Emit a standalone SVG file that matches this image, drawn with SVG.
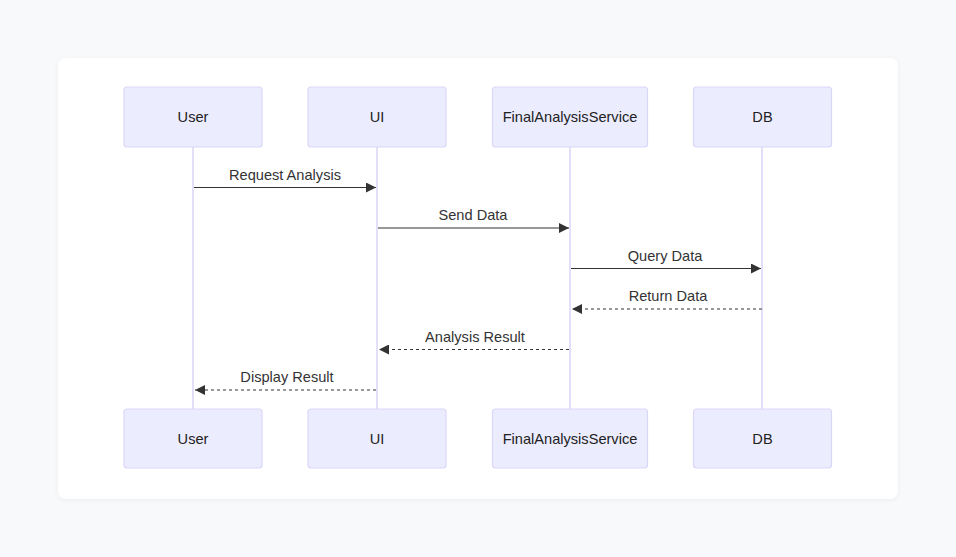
<svg xmlns="http://www.w3.org/2000/svg" width="956" height="557" viewBox="0 0 956 557">
<style>
.actor{fill:#ECECFF;stroke:#DAD6F7;stroke-width:1.2}
.lbl{font-family:"Liberation Sans",Arial,sans-serif;font-size:14.6px;fill:#222;text-anchor:middle;dominant-baseline:central}
.life{stroke:#D8D4F5;stroke-width:1.5}
.msg{stroke:#333;stroke-width:1.2;fill:none}
.dash{stroke-dasharray:3,3}
.mt{font-family:"Liberation Sans",Arial,sans-serif;font-size:14.6px;fill:#333;text-anchor:middle;dominant-baseline:central}
</style>
<defs>
<marker id="ah" viewBox="0 0 10 10" refX="10" refY="5" markerWidth="10" markerHeight="10" markerUnits="userSpaceOnUse" orient="auto">
<path d="M0,0 L10,5 L0,10 z" fill="#333"/>
</marker>
<filter id="sh" x="-5%" y="-5%" width="110%" height="110%">
<feDropShadow dx="0" dy="1" stdDeviation="2" flood-color="#000" flood-opacity="0.05"/>
</filter>
</defs>
<rect width="956" height="557" fill="#F8F9FB"/>
<rect x="58" y="58" width="840" height="441" rx="8" fill="#FFFFFF" filter="url(#sh)"/>
<g id="lifelines">
<line class="life" x1="193" y1="147" x2="193" y2="409"/>
<line class="life" x1="377" y1="147" x2="377" y2="409"/>
<line class="life" x1="570" y1="147" x2="570" y2="409"/>
<line class="life" x1="762" y1="147" x2="762" y2="409"/>
</g>
<g id="user-top"><rect class="actor" x="124" y="87" width="138" height="60" rx="3"/><text class="lbl" x="193" y="117">User</text></g>
<g id="ui-top"><rect class="actor" x="308" y="87" width="138" height="60" rx="3"/><text class="lbl" x="377" y="117">UI</text></g>
<g id="fas-top"><rect class="actor" x="492.5" y="87" width="155" height="60" rx="3"/><text class="lbl" x="570" y="117">FinalAnalysisService</text></g>
<g id="db-top"><rect class="actor" x="693.5" y="87" width="138" height="60" rx="3"/><text class="lbl" x="762.5" y="117">DB</text></g>
<g id="user-bottom"><rect class="actor" x="124" y="409" width="138" height="59" rx="3"/><text class="lbl" x="193" y="439">User</text></g>
<g id="ui-bottom"><rect class="actor" x="308" y="409" width="138" height="59" rx="3"/><text class="lbl" x="377" y="439">UI</text></g>
<g id="fas-bottom"><rect class="actor" x="492.5" y="409" width="155" height="59" rx="3"/><text class="lbl" x="570" y="439">FinalAnalysisService</text></g>
<g id="db-bottom"><rect class="actor" x="693.5" y="409" width="138" height="59" rx="3"/><text class="lbl" x="762.5" y="439">DB</text></g>
<g id="connectors">
<line class="msg" x1="194" y1="187.5" x2="376" y2="187.5" marker-end="url(#ah)"/>
<text class="mt" x="285" y="175">Request Analysis</text>
<line class="msg" x1="378" y1="228" x2="569" y2="228" marker-end="url(#ah)"/>
<text class="mt" x="473" y="215">Send Data</text>
<line class="msg" x1="571" y1="268.5" x2="761" y2="268.5" marker-end="url(#ah)"/>
<text class="mt" x="665" y="256">Query Data</text>
<line class="msg dash" x1="762" y1="309" x2="572" y2="309" marker-end="url(#ah)"/>
<text class="mt" x="668" y="296">Return Data</text>
<line class="msg dash" x1="569" y1="349.5" x2="379" y2="349.5" marker-end="url(#ah)"/>
<text class="mt" x="475" y="337">Analysis Result</text>
<line class="msg dash" x1="376" y1="390" x2="195" y2="390" marker-end="url(#ah)"/>
<text class="mt" x="287" y="377">Display Result</text>
</g>
</svg>
